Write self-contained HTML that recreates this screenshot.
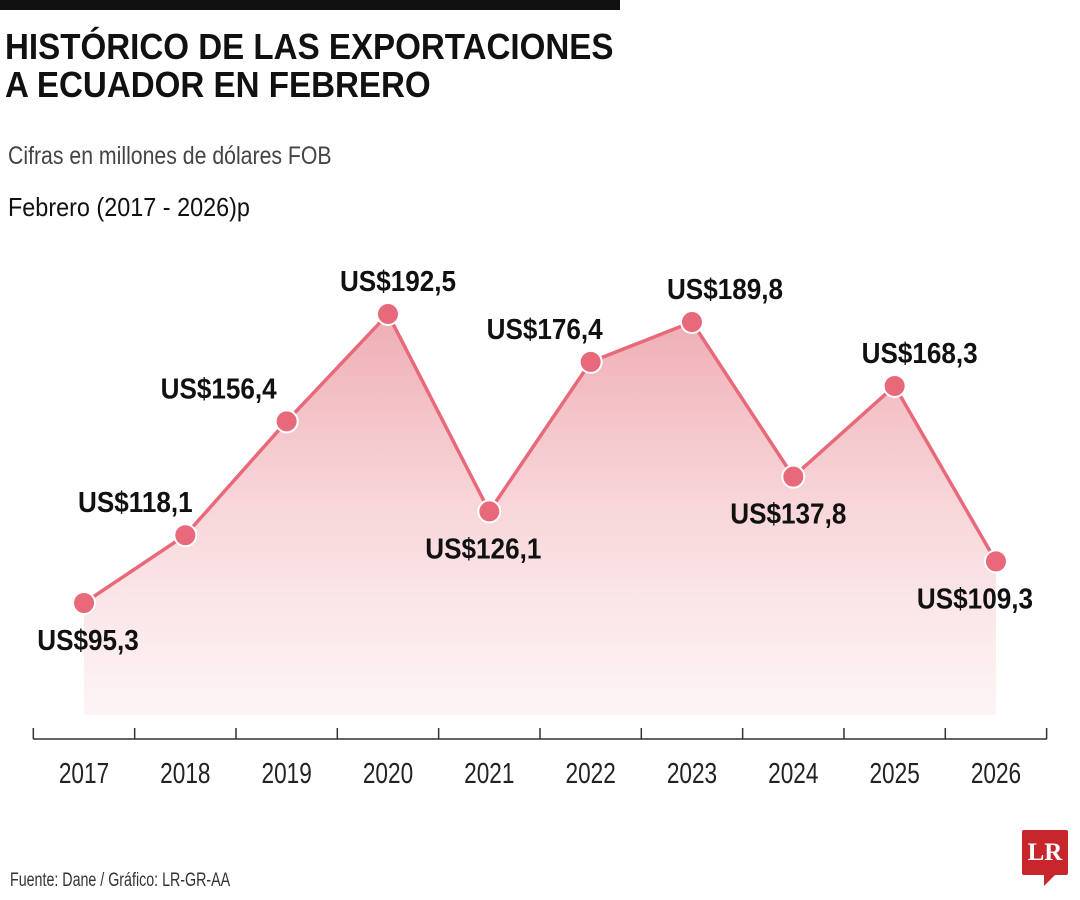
<!DOCTYPE html>
<html><head><meta charset="utf-8"><style>
body{margin:0;width:1080px;height:900px;background:#fff;overflow:hidden;font-family:"Liberation Sans",sans-serif;position:relative}
.t{position:absolute;white-space:nowrap;transform-origin:0 0}
</style></head><body>
<div style="position:absolute;left:0;top:0;width:620px;height:10px;background:#111"></div>
<div class="t" style="left:5px;top:28px;font-size:36px;font-weight:bold;line-height:38px;color:#111;transform:scaleX(0.92)">HISTÓRICO DE LAS EXPORTACIONES<br>A ECUADOR EN FEBRERO</div>
<div class="t" style="left:8px;top:142px;font-size:25px;color:#444;transform:scaleX(0.85)">Cifras en millones de dólares FOB</div>
<div class="t" style="left:8px;top:192px;font-size:26px;color:#111;transform:scaleX(0.9)">Febrero (2017 - 2026)p</div>
<svg id="chart" width="1080" height="900" style="position:absolute;left:0;top:0">
<defs><linearGradient id="g" x1="0" y1="0" x2="0" y2="1"><stop offset="0" stop-color="#e9919a" stop-opacity="0.75"/><stop offset="1" stop-color="#fbe3e5" stop-opacity="0.4"/></linearGradient></defs>
</svg>
<div class="t" style="left:10px;top:870px;font-size:19px;color:#333;transform:scaleX(0.75)">Fuente: Dane / Gráfico: LR-GR-AA</div>
<div style="position:absolute;left:1022px;top:830px;width:46px;height:45px;background:#c8262d;border-radius:2px;color:#fff;font-family:'Liberation Serif',serif;font-weight:bold;font-size:25px;text-align:center;line-height:45px">LR</div>
<div style="position:absolute;left:1044px;top:874px;width:0;height:0;border-right:12px solid transparent;border-top:12px solid #c8262d"></div>
<script>
const years=["2017","2018","2019","2020","2021","2022","2023","2024","2025","2026"];
const values=[95.3,118.1,156.4,192.5,126.1,176.4,189.8,137.8,168.3,109.3];
const labels=["US$95,3","US$118,1","US$156,4","US$192,5","US$126,1","US$176,4","US$189,8","US$137,8","US$168,3","US$109,3"];
const labelBelow=[true,false,false,false,true,false,false,true,false,true];
const labelDx=[4,-50,-68,10,-6,-46,33,-5,25,-21];
const svg=document.getElementById('chart');const NS='http://www.w3.org/2000/svg';
const x=i=>84+i*101.33;
const y=v=>603-(v-95.3)*2.973;
const baseY=715,axisY=739;
function mk(t,a){const e=document.createElementNS(NS,t);for(const k in a)e.setAttribute(k,a[k]);svg.appendChild(e);return e;}
const sx=(cx,s)=>'translate('+cx+',0) scale('+s+',1) translate('+(-cx)+',0)';
let d='M'+x(0)+','+baseY;values.forEach((v,i)=>d+=' L'+x(i)+','+y(v));d+=' L'+x(values.length-1)+','+baseY+' Z';
const area=mk('path',{d:d,fill:'url(#g)'});


let ld='';values.forEach((v,i)=>ld+=(i?' L':'M')+x(i)+','+y(v));
const line=mk('path',{d:ld,fill:'none',stroke:'#e8697a','stroke-width':3.5});


const ax=mk('line',{x1:33,x2:1047,y1:axisY,y2:axisY,stroke:'#333','stroke-width':1.5});


for(let i=0;i<=years.length;i++){const tx=x(i)-50.67;const tk=mk('line',{x1:tx,x2:tx,y1:axisY-11,y2:axisY,stroke:'#333','stroke-width':1.5});

}
years.forEach((yr,i)=>{const t=mk('text',{x:x(i),y:783,'text-anchor':'middle','font-size':29,fill:'#222',transform:sx(x(i),0.78)});t.textContent=yr;

});
values.forEach((v,i)=>{const c=mk('circle',{cx:x(i),cy:y(v),r:11,fill:'#e8697a',stroke:'#fff','stroke-width':2});


const lx=x(i)+labelDx[i];
const t=mk('text',{x:lx,y:labelBelow[i]?y(v)+47:y(v)-23,'text-anchor':'middle','font-size':29,'font-weight':'bold',fill:'#111',transform:sx(lx,0.9)});t.textContent=labels[i];

});
</script>
</body></html>
